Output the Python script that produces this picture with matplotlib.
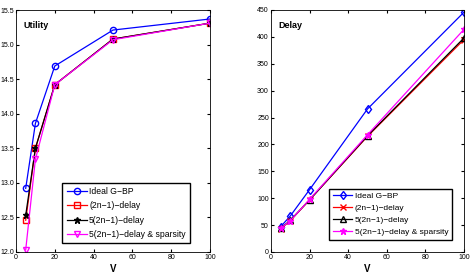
# utility and delay vs V, two panels

import matplotlib.pyplot as plt

V = [5, 10, 20, 50, 100]
labels = ["Ideal G\u2212BP", "(2n\u22121)\u2212delay", "5(2n\u22121)\u2212delay",
          "5(2n\u22121)\u2212delay & sparsity"]

utility_ideal = [12.92, 13.86, 14.69, 15.21, 15.37]
utility_2n = [12.46, 13.50, 14.42, 15.08, 15.31]
utility_5x = [12.53, 13.50, 14.42, 15.08, 15.31]
utility_sparse = [12.03, 13.34, 14.42, 15.07, 15.31]

delay_ideal = [47, 67, 116, 266, 446]
delay_2n = [43, 58, 97, 215, 395]
delay_5x = [44, 59, 97, 216, 398]
delay_sparse = [44, 58, 98, 218, 414]

colors = ["blue", "red", "black", "magenta"]

plt.rcParams['font.family'] = ['Liberation Sans', 'DejaVu Sans']
fig = plt.figure(figsize=(4.71, 2.77), dpi=100)

# left panel: utility
ax1 = fig.add_axes([16 / 471, 25 / 277, 194 / 471, 242 / 277])
markers1 = ["o", "s", "*", "v"]
for y, c, m, lab in zip([utility_ideal, utility_2n, utility_5x, utility_sparse],
                        colors, markers1, labels):
    ax1.plot(V, y, color=c, marker=m, markersize=4.5,
             markerfacecolor="none" if m != "*" else c,
             linewidth=0.9, label=lab)
ax1.set_xlim(0, 100)
ax1.set_ylim(12, 15.5)
ax1.set_xticks([0, 20, 40, 60, 80, 100])
ax1.set_yticks([12, 12.5, 13, 13.5, 14, 14.5, 15, 15.5])
ax1.text(0.04, 0.955, "Utility", transform=ax1.transAxes, fontsize=6.5,
         fontweight="bold", va="top")
ax1.set_xlabel("V", fontsize=7, fontweight="bold", labelpad=2)
ax1.legend(loc="lower right", bbox_to_anchor=(0.897, 0.037), borderaxespad=0,
           fontsize=6.2, frameon=True, fancybox=False, edgecolor="black",
           handlelength=2.3, borderpad=0.5, labelspacing=0.6, handletextpad=0.3,
           framealpha=1)

# right panel: delay
ax2 = fig.add_axes([271 / 471, 25 / 277, 193 / 471, 242 / 277])
markers2 = ["d", "x", "^", "*"]
for y, c, m, lab in zip([delay_ideal, delay_2n, delay_5x, delay_sparse],
                        colors, markers2, labels):
    ax2.plot(V, y, color=c, marker=m, markersize=4.5,
             markerfacecolor="none" if m in ("d", "^") else c,
             linewidth=0.9, label=lab)
ax2.set_xlim(0, 100)
ax2.set_ylim(0, 450)
ax2.set_xticks([0, 20, 40, 60, 80, 100])
ax2.set_yticks(range(0, 451, 50))
ax2.text(0.04, 0.955, "Delay", transform=ax2.transAxes, fontsize=6.5,
         fontweight="bold", va="top")
ax2.set_xlabel("V", fontsize=7, fontweight="bold", labelpad=2)
ax2.legend(loc="lower right", bbox_to_anchor=(0.938, 0.05), borderaxespad=0,
           fontsize=6.0, frameon=True, fancybox=False, edgecolor="black",
           handlelength=2.3, borderpad=0.45, labelspacing=0.5, handletextpad=0.3,
           framealpha=1)

for ax in (ax1, ax2):
    ax.tick_params(labelsize=5, direction="in", length=2, top=True, right=True, pad=1.5)
    for s in ax.spines.values():
        s.set_linewidth(0.6)

fig.savefig("out.png", dpi=100)
